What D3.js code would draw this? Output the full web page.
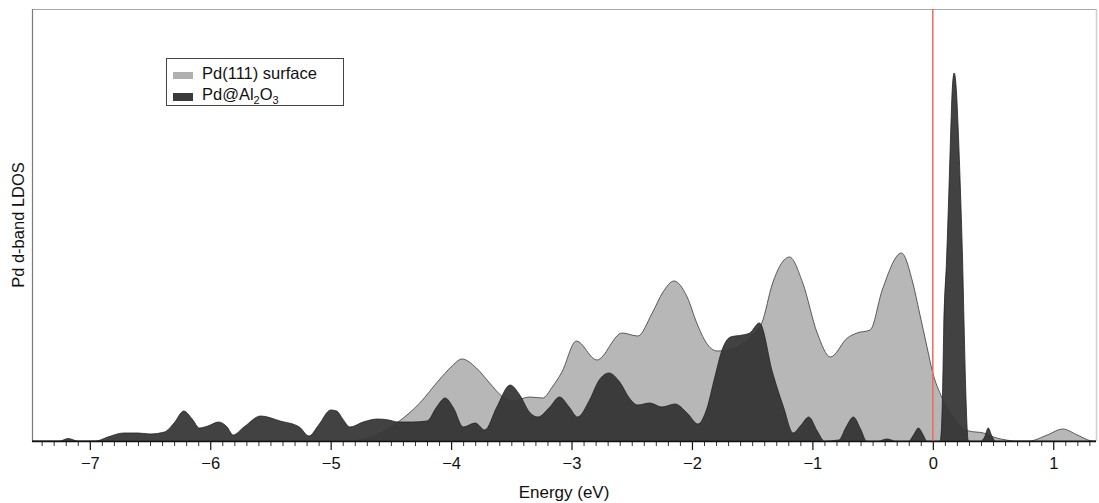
<!DOCTYPE html>
<html>
<head>
<meta charset="utf-8">
<script src="https://cdn.jsdelivr.net/npm/d3@7"></script>
<style>
  html, body { margin: 0; padding: 0; background: #fff; }
  svg { display: block; font-family: "Liberation Sans", Arial, Helvetica, sans-serif; }
</style>
</head>
<body>
<svg id="chart" width="1099" height="503"></svg>
<script>
// Pd(111) clean surface: energy (eV) and d-band LDOS (arb. units)
const surfaceEnergy = [-7.48, -4.95, -4.76, -4.59, -4.44, -4.26, -4.10, -4.00, -3.91, -3.79, -3.68, -3.57,
  -3.49, -3.35, -3.24, -3.16, -3.08, -2.96, -2.79, -2.58, -2.45, -2.33, -2.24, -2.15, -2.04, -1.96,
  -1.88, -1.79, -1.71, -1.60, -1.50, -1.42, -1.33, -1.19, -1.08, -0.96, -0.85, -0.71, -0.63, -0.52,
  -0.42, -0.26, -0.17, -0.11, -0.05, 0.00, 0.066, 0.17, 0.30, 0.42, 0.53, 0.61, 0.68, 0.80, 0.95,
  1.08, 1.20, 1.33, 1.355];
const surfaceDOS = [0, 0, 1, 8, 19, 38, 61, 74, 82, 73, 58, 44,
  40, 44, 43, 54, 69, 100, 81, 108, 105, 128, 149, 160, 144, 118,
  98, 90, 91, 96, 106, 118, 158, 184, 158, 108, 84, 103, 108, 111,
  151, 188, 160, 128, 95, 68, 46, 24, 10, 8, 3, 1, 0, 0, 6,
  12, 6, 0, 0];

// Pd@Al2O3: energy (eV) and d-band LDOS (arb. units)
const coatedEnergy = [-7.48, -7.25, -7.18, -7.10, -6.95, -6.85, -6.72, -6.60, -6.50, -6.38, -6.30, -6.22,
  -6.15, -6.09, -6.02, -5.93, -5.86, -5.81, -5.72, -5.58, -5.42, -5.26, -5.18, -5.10, -5.00, -4.95,
  -4.90, -4.84, -4.73, -4.61, -4.52, -4.44, -4.32, -4.20, -4.12, -4.05, -3.98, -3.90, -3.80, -3.72,
  -3.62, -3.51, -3.43, -3.35, -3.28, -3.18, -3.10, -3.02, -2.95, -2.85, -2.77, -2.69, -2.60, -2.52,
  -2.45, -2.35, -2.25, -2.14, -2.04, -1.95, -1.88, -1.81, -1.75, -1.68, -1.58, -1.52, -1.44, -1.33,
  -1.24, -1.16, -1.10, -1.03, -0.96, -0.90, -0.78, -0.72, -0.66, -0.60, -0.55, -0.45, -0.38, -0.31,
  -0.20, -0.16, -0.12, -0.08, -0.05, 0.06, 0.064, 0.081, 0.091, 0.114, 0.133, 0.150, 0.160, 0.177,
  0.197, 0.210, 0.230, 0.247, 0.260, 0.274, 0.293, 0.30, 0.40, 0.43, 0.46, 0.49, 0.52, 1.355];
const coatedDOS = [0, 0, 2.5, 0, 0, 4, 8, 8, 7, 9, 18, 30,
  22, 13, 15, 19, 14, 6, 14, 25, 20, 14, 5, 16, 31, 30,
  22, 14, 19, 22, 21, 19, 19, 20, 34, 43, 33, 14, 18, 11,
  34, 56, 46, 29, 24, 34, 44, 34, 24, 41, 61, 68, 59, 43,
  36, 38, 34, 37, 28, 17, 31, 64, 91, 104, 106, 108, 118, 68,
  34, 8, 15, 24, 10, 0, 1, 14, 24, 12, 0, 0, 2, 0,
  0, 6, 13, 6, 0, 0, 1, 48, 114, 181, 248, 314, 348, 368,
  348, 314, 248, 181, 114, 48, 1, 0, 0, 4, 13, 5, 0, 0];

const majorTicks = [-7, -6, -5, -4, -3, -2, -1, 0, 1];
const legendLabels = ["Pd(111) surface", "Pd@Al2O3"];
const fermiLevel = 0;

const svg = d3.select("#chart");
const plotLeft = 32, plotRight = 1096, plotTop = 9, plotBottom = 441;

const x = d3.scaleLinear().domain([-7.48, 1.355]).range([plotLeft, plotRight]);
const y = d3.scaleLinear().domain([0, 432]).range([plotBottom, plotTop]);

const surface = surfaceEnergy.map((e, i) => ({ e, v: surfaceDOS[i] }));
const coated = coatedEnergy.map((e, i) => ({ e, v: coatedDOS[i] }));

const area = d3.area().x(d => x(d.e)).y0(y(0)).y1(d => y(d.v)).curve(d3.curveMonotoneX);
const line = d3.line().x(d => x(d.e)).y(d => y(d.v)).curve(d3.curveMonotoneX);

// frame
svg.append("line").attr("x1", plotLeft).attr("x2", plotRight).attr("y1", plotTop + 0.5).attr("y2", plotTop + 0.5)
  .attr("stroke", "#a8a8a8").attr("stroke-width", 1.2);
svg.append("line").attr("x1", plotRight + 0.5).attr("x2", plotRight + 0.5).attr("y1", plotTop).attr("y2", plotBottom)
  .attr("stroke", "#d0d0d0").attr("stroke-width", 1.5);
svg.append("line").attr("x1", plotLeft + 0.5).attr("x2", plotLeft + 0.5).attr("y1", plotTop).attr("y2", plotBottom)
  .attr("stroke", "#7a7a7a").attr("stroke-width", 1.2);

// filled LDOS areas
svg.append("path").datum(surface).attr("d", area).attr("fill", "#b7b7b7");
svg.append("path").datum(coated).attr("d", area).attr("fill", "#2e2e2e").attr("fill-opacity", 0.9);

// outlines
svg.append("path").datum(surface).attr("d", line).attr("fill", "none")
  .attr("stroke", "#3a3a3a").attr("stroke-width", 0.8);
svg.append("path").datum(coated).attr("d", line).attr("fill", "none")
  .attr("stroke", "#222").attr("stroke-width", 0.8);

// Fermi level
svg.append("line").attr("x1", x(fermiLevel)).attr("x2", x(fermiLevel)).attr("y1", plotTop).attr("y2", plotBottom)
  .attr("stroke", "#ec6a60").attr("stroke-width", 1.5);

// x axis: minor ticks every 0.1 eV, labelled major ticks every 1 eV
const minorTicks = d3.range(-74, 14).map(k => k / 10).filter(v => Math.abs(v - Math.round(v)) > 1e-6);
const minorAxis = d3.axisBottom(x).tickValues(minorTicks).tickSize(5).tickFormat("");
const gMinor = svg.append("g").attr("transform", `translate(0,${plotBottom})`).call(minorAxis);
gMinor.select(".domain").remove();
gMinor.selectAll(".tick line").attr("stroke", "#333").attr("stroke-width", 1);

const majorAxis = d3.axisBottom(x).tickValues(majorTicks).tickSize(9).tickPadding(7).tickFormat(d3.format("d"));
const gMajor = svg.append("g").attr("transform", `translate(0,${plotBottom})`).call(majorAxis);
gMajor.select(".domain").attr("stroke", "#111").attr("stroke-width", 1.6).attr("d", `M${plotLeft},0.5H${plotRight}`);
gMajor.selectAll(".tick line").attr("stroke", "#111").attr("stroke-width", 1.2);
gMajor.selectAll(".tick text").attr("font-size", 16.5).attr("fill", "#111")
  .attr("font-family", "'Liberation Sans', Arial, sans-serif");

// axis titles
svg.append("text").attr("x", 564).attr("y", 498).attr("text-anchor", "middle")
  .attr("font-size", 17).attr("fill", "#111").text("Energy (eV)");
svg.append("text").attr("transform", `translate(24,${(plotTop + plotBottom) / 2}) rotate(-90)`)
  .attr("text-anchor", "middle").attr("font-size", 16.5).attr("fill", "#111").text("Pd d-band LDOS");

// legend
const lg = svg.append("g").attr("transform", "translate(166,58)");
lg.append("rect").attr("x", 0.5).attr("y", 0.5).attr("width", 177).attr("height", 47)
  .attr("fill", "#fff").attr("stroke", "#444").attr("stroke-width", 1);
lg.append("rect").attr("x", 7).attr("y", 14).attr("width", 20).attr("height", 7).attr("fill", "#b0b0b0");
lg.append("rect").attr("x", 7).attr("y", 35).attr("width", 20).attr("height", 8).attr("fill", "#3a3a3a");
lg.append("text").attr("x", 36).attr("y", 21).attr("font-size", 16.5).attr("fill", "#111").text(legendLabels[0]);
const t2 = lg.append("text").attr("x", 36).attr("y", 42).attr("font-size", 16.5).attr("fill", "#111");
t2.append("tspan").text("Pd@Al");
t2.append("tspan").attr("font-size", 11).attr("dy", 4).text("2");
t2.append("tspan").attr("dy", -4).text("O");
t2.append("tspan").attr("font-size", 11).attr("dy", 4).text("3");
</script>
</body>
</html>
